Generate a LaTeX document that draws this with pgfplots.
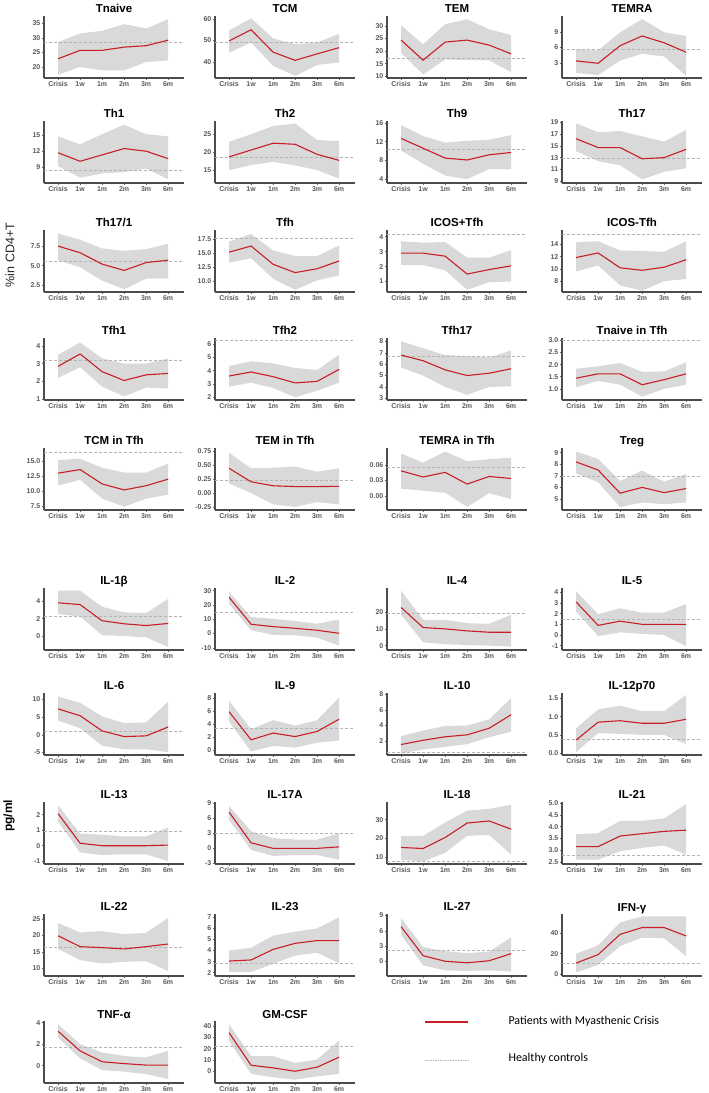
\documentclass[border=0pt]{standalone}
\usepackage{pgfplots}
\pgfplotsset{compat=1.18}
\usepackage{fontspec}
\setmainfont{Liberation Sans}
\newfontfamily\carlito{Carlito}
\definecolor{bandgray}{RGB}{217,217,217}
\definecolor{meanred}{RGB}{200,30,40}
\definecolor{hcgray}{RGB}{180,180,180}
\definecolor{tickgray}{RGB}{90,90,90}
\def\mkc#1,#2,#3,#4,#5,#6\relax{(0,#1) (1,#2) (2,#3) (3,#4) (4,#5) (5,#6)}
\def\mkr#1,#2,#3,#4,#5,#6\relax{(5,#6) (4,#5) (3,#4) (2,#3) (1,#2) (0,#1)}
\pgfplotsset{
 every axis title shift=0pt,
 panel/.style={
  scale only axis, width=140pt, height=62pt, anchor=south west,
  xmin=-0.64, xmax=5.72,
  axis x line*=bottom, axis y line*=left,
  axis line style={line width=1.1pt, draw=black!70, -},
  xtick={0,1,2,3,4,5}, xticklabels={Crisis,1w,1m,2m,3m,6m},
  major tick length=2pt, tick style={line width=0.5pt, draw=black!60},
  tick align=outside,
  scaled y ticks=false,
  ticklabel style={font=\bfseries\fontsize{7}{8}\selectfont, text=tickgray},
  xticklabel style={inner sep=1.5pt},
  yticklabel style={inner sep=1.5pt},
  /pgf/number format/assume math mode=true,
  title style={font=\bfseries\fontsize{11.5}{13}\selectfont, at={(0.5,1)}, anchor=base, yshift=3pt, inner sep=0pt},
  clip=false, no markers,
 },
 hcline/.style={dash pattern=on 3pt off 2pt, line width=0.8pt, hcgray},
 meanline/.style={line width=1.1pt, meanred},
}
% #1 position, #2 title, #3 axis options, #4 upper, #5 lower, #6 mean, #7 healthy controls
\newcommand{\panel}[7]{%
\begin{axis}[panel,at={(#1)},title={#2},#3]
\edef\tmpplot{\noexpand\addplot[draw=none,fill=bandgray] coordinates {\mkc#4\relax\space\mkr#5\relax} -- cycle;}\tmpplot
\addplot[hcline] coordinates {(-0.64,#7) (5.72,#7)};
\edef\tmpplot{\noexpand\addplot[meanline] coordinates {\mkc#6\relax};}\tmpplot
\end{axis}}
\begin{document}
\begin{tikzpicture}
\path[use as bounding box] (0,0) rectangle (709pt,1093pt);
% Row 1
\panel{44pt,1015pt}{Tnaive}{ymin=16.2,ymax=37.5,ytick={20,25,30,35}}{28.5,31.5,32.4,34.7,33.2,36.4}{17.3,20,18.8,18.8,21.7,22.2}{22.8,25.7,25.7,26.8,27.3,29.2}{28.4}
\panel{215pt,1015pt}{TCM}{ymin=32.6,ymax=61.4,ytick={40,50,60}}{54.7,60.3,51,48.3,49.1,53.1}{44.3,49.1,38.2,33.6,38.7,39.8}{49.8,55,44.6,40.8,43.8,46.7}{49.1}
\panel{387pt,1015pt}{TEM}{ymin=9.3,ymax=34,ytick={10,15,20,25,30}}{30.3,22.7,30.7,32.7,28.7,26.4}{19.3,10.7,16.7,16.4,16.3,11.6}{24.4,16.4,23.6,24.4,22.4,18.9}{17.3}
\panel{562pt,1015pt}{TEMRA}{ymin=0.2,ymax=12,ytick={3,6,9}}{5.7,5.45,8.9,11.4,8.9,8.2}{1.2,0.75,3.5,4.8,4.3,0.6}{3.45,3.0,6.35,8.2,6.9,5.1}{5.7}
% Row 2
\panel{44pt,910pt}{Th1}{ymin=6.0,ymax=17.7,ytick={9,12,15}}{14.8,13.3,15.2,17.0,15.2,14.8}{9.2,7.0,7.8,8.05,8.7,6.7}{11.7,10.1,11.3,12.5,12.0,10.6}{8.4}
\panel{215pt,910pt}{Th2}{ymin=11.4,ymax=28.7,ytick={15,20,25}}{22.9,25,27.3,28,23.4,23.1}{15,16.4,17.3,16.3,15,12.6}{18.7,20.6,22.5,22.2,19.4,17.7}{18.6}
\panel{387pt,910pt}{Th9}{ymin=3.2,ymax=16.4,ytick={4,8,12,16}}{15.5,13.2,11.8,12.2,12.4,13.4}{10.1,7.3,4.8,4,6.2,6.1}{12.7,10.6,8.5,8.1,9.2,9.7}{10.4}
\panel{562pt,910pt}{Th17}{ymin=8.7,ymax=19.2,ytick={9,11,13,15,17,19}}{18.8,17.3,17.5,16.6,15.7,17.7}{14.1,12.4,11.7,9.3,10.6,11.2}{16.2,14.7,14.7,12.8,13.0,14.4}{12.9}
% Row 3
\panel{44pt,801pt}{Th17/1}{ymin=1.65,ymax=9.55,ytick={2.5,5,7.5},yticklabels={2.5,5.0,7.5}}{9.1,8.3,7.2,6.9,7.1,7.8}{5.7,4.8,3.1,2.0,3.35,3.35}{7.5,6.65,5.2,4.4,5.4,5.7}{5.5}
\panel{215pt,801pt}{Tfh}{ymin=8,ymax=19.2,ytick={10,12.5,15,17.5},yticklabels={10.0,12.5,15.0,17.5}}{17.1,18.5,15.5,14.5,14.5,16.4}{13.3,14.1,10.4,8.4,10.1,11}{15.2,16.3,13.0,11.5,12.2,13.6}{17.7}
\panel{387pt,801pt}{ICOS+Tfh}{ymin=0.3,ymax=4.45,ytick={1,2,3,4}}{3.7,3.6,3.65,2.6,2.6,3.1}{2.1,2.1,1.75,0.45,0.95,1.0}{2.9,2.9,2.7,1.5,1.8,2.05}{4.15}
\panel{562pt,801pt}{ICOS-Tfh}{ymin=6.3,ymax=16.3,ytick={8,10,12,14}}{14.3,14.5,13.0,12.9,12.8,14.5}{9.6,10.6,7.35,6.5,8.05,8.4}{11.85,12.6,10.2,9.8,10.3,11.5}{15.6}
% Row 4
\panel{44pt,693pt}{Tfh1}{ymin=0.95,ymax=4.45,ytick={1,2,3,4}}{3.5,4.2,3.3,3.0,3.0,3.3}{2.2,2.8,1.7,1.15,1.65,1.6}{2.85,3.55,2.55,2.05,2.37,2.45}{3.2}
\panel{215pt,693pt}{Tfh2}{ymin=1.8,ymax=6.45,ytick={2,3,4,5,6}}{4.35,4.7,4.55,4.2,4.05,5.2}{2.8,3.1,2.7,2.0,2.5,3.1}{3.6,3.9,3.55,3.08,3.2,4.1}{6.3}
\panel{387pt,693pt}{Tfh17}{ymin=2.85,ymax=8.3,ytick={3,4,5,6,7,8}}{8.0,7.4,6.8,6.7,6.6,7.2}{5.7,5.0,4.0,3.3,4.0,4.05}{6.8,6.3,5.5,5.0,5.2,5.6}{6.7}
\panel{562pt,693pt}{Tnaive in Tfh}{ymin=0.54,ymax=3.1,ytick={1,1.5,2,2.5,3},yticklabels={1.0,1.5,2.0,2.5,3.0}}{1.83,1.93,2.07,1.7,1.72,2.1}{1.07,1.33,1.17,0.68,1.0,1.17}{1.44,1.62,1.62,1.17,1.38,1.62}{3.0}
% Row 5
\panel{44pt,583pt}{TCM in Tfh}{ymin=6.85,ymax=17.2,ytick={7.5,10,12.5,15},yticklabels={7.5,10.0,12.5,15.0}}{15.2,15.4,13.9,13.1,13.1,14.6}{10.9,11.9,8.75,7.4,8.75,9.4}{13.0,13.6,11.2,10.2,10.9,12.0}{16.5}
\panel{215pt,583pt}{TEM in Tfh}{ymin=-0.3,ymax=0.8,ytick={-0.25,0,0.25,0.5,0.75},yticklabels={-0.25,0.00,0.25,0.50,0.75}}{0.715,0.44,0.45,0.47,0.38,0.44}{0.17,0.0,-0.2,-0.245,-0.16,-0.2}{0.44,0.2,0.13,0.115,0.115,0.12}{0.22}
\panel{387pt,583pt}{TEMRA in Tfh}{ymin=-0.028,ymax=0.094,ytick={0,0.03,0.06},yticklabels={0.00,0.03,0.06}}{0.083,0.065,0.087,0.068,0.072,0.075}{0.014,0.01,0.006,-0.022,0.005,-0.0065}{0.049,0.037,0.046,0.023,0.038,0.034}{0.055}
\panel{562pt,583pt}{Treg}{ymin=4.05,ymax=9.4,ytick={5,6,7,8,9}}{9.1,8.45,6.55,7.45,6.5,7.15}{7.2,6.45,4.3,4.7,4.55,4.7}{8.2,7.5,5.5,6.0,5.55,5.9}{6.95}
% Row 6
\panel{44pt,443pt}{IL-1β}{ymin=-1.6,ymax=5.5,ytick={0,2,4}}{5.2,5.2,3.35,2.7,2.65,4.25}{2.5,2.25,0.1,0.0,-0.15,-1.25}{3.8,3.6,1.75,1.4,1.2,1.44}{2.25}
\panel{215pt,443pt}{IL-2}{ymin=-11.5,ymax=31.9,ytick={-10,0,10,20,30}}{29.1,11.5,10.4,8.8,6.9,9.9}{20.8,2.3,-0.9,-1.2,-2.8,-8.5}{25.4,6.5,4.85,3.7,2.3,0.2}{15}
\panel{387pt,443pt}{IL-4}{ymin=-2.6,ymax=34.4,ytick={0,10,20}}{32.8,15.4,15.4,13.4,13,18.4}{18.4,2,0.8,0.4,0,-0.6}{22.8,10.8,10,8.8,8,8}{19.4}
\panel{562pt,443pt}{IL-5}{ymin=-1.4,ymax=4.4,ytick={-1,0,1,2,3,4}}{4.1,1.95,2.5,2.1,2.1,2.9}{2.2,-0.1,0.25,0.1,0,-1.05}{3.1,0.9,1.3,1.0,1.0,1.0}{1.45}
% Row 7
\panel{44pt,338pt}{IL-6}{ymin=-5.7,ymax=11.8,ytick={-5,0,5,10}}{10.8,9.0,5.2,3.3,3.5,9.4}{4.0,1.9,-3.1,-4.1,-4.1,-4.9}{7.3,5.4,1.1,-0.5,-0.3,2.2}{1.1}
\panel{215pt,338pt}{IL-9}{ymin=-0.8,ymax=8.8,ytick={0,2,4,6,8}}{7.6,3.2,4.6,3.75,4.6,8.1}{4.4,-0.25,0.6,0.35,1.1,1.45}{5.9,1.55,2.6,2.05,2.85,4.75}{3.35}
\panel{387pt,338pt}{IL-10}{ymin=0.2,ymax=8.2,ytick={2,4,6,8}}{2.65,3.35,3.95,4.0,4.8,7.55}{0.4,0.9,1.25,1.6,2.5,3.2}{1.55,2.1,2.55,2.8,3.65,5.4}{0.48}
\panel{562pt,338pt}{IL-12p70}{ymin=-0.05,ymax=1.65,ytick={0,0.5,1,1.5},yticklabels={0.0,0.5,1.0,1.5}}{0.68,1.2,1.3,1.15,1.15,1.6}{0.03,0.55,0.53,0.5,0.5,0.25}{0.36,0.85,0.89,0.82,0.82,0.93}{0.37}
% Row 8
\panel{44pt,229pt}{IL-13}{ymin=-1.18,ymax=2.82,ytick={-1,0,1,2}}{2.6,0.78,0.71,0.6,0.6,1.18}{1.56,-0.44,-0.6,-0.56,-0.56,-1.0}{2.07,0.16,0,0,0,0.04}{0.93}
\panel{215pt,229pt}{IL-17A}{ymin=-3.1,ymax=9.2,ytick={-3,0,3,6,9}}{8.4,3.4,2.05,1.75,1.75,3.0}{5.6,-0.3,-1.5,-1.35,-1.35,-2.25}{7.2,1.1,0,0,0,0.3}{2.9}
\panel{387pt,229pt}{IL-18}{ymin=6.2,ymax=39.5,ytick={10,20,30}}{21.3,21.3,28.5,34.9,35.8,38}{8.5,7.6,12.2,21.3,21.8,11.3}{15.1,14.5,20.4,28.2,29.3,24.9}{7.6}
\panel{562pt,229pt}{IL-21}{ymin=2.41,ymax=5.05,ytick={2.5,3,3.5,4,4.5,5},yticklabels={2.5,3.0,3.5,4.0,4.5,5.0}}{3.68,3.72,4.25,4.25,4.35,4.97}{2.6,2.6,2.95,3.1,3.2,2.8}{3.15,3.15,3.6,3.7,3.8,3.85}{2.79}
% Row 9
\panel{44pt,117pt}{IL-22}{ymin=7.7,ymax=26.5,ytick={10,15,20,25}}{23.8,20.9,21.3,20.4,20.8,25.3}{15.9,12.5,11.5,12,12.2,9.2}{19.9,16.6,16.3,15.9,16.6,17.4}{16.4}
\panel{215pt,117pt}{IL-23}{ymin=1.7,ymax=7.3,ytick={2,3,4,5,6,7}}{4.0,4.25,5.35,5.7,6.0,7.0}{2.05,2.05,2.8,3.55,3.8,2.85}{3.05,3.15,4.1,4.65,4.9,4.9}{2.85}
\panel{387pt,117pt}{IL-27}{ymin=-2.9,ymax=9.3,ytick={0,3,6,9}}{8.5,2.8,2.0,1.6,1.9,4.7}{5.2,-0.8,-1.8,-1.9,-1.8,-2.0}{6.8,1.1,0,-0.3,0.1,1.5}{2.15}
\panel{562pt,117pt}{IFN-γ}{ymin=-1.7,ymax=58.7,ytick={0,20,40}}{20.1,28.1,50.5,56.4,56.4,56.4}{1.7,9.2,27.4,35.6,35,17.5}{10.9,19.1,38.9,45.5,45.5,37.3}{10.9}
% Row 10
\panel{44pt,10pt}{TNF-α}{ymin=-1.6,ymax=4.15,ytick={0,2,4}}{3.85,2.0,1.23,0.9,0.77,1.4}{2.6,0.68,-0.4,-0.55,-0.77,-1.23}{3.2,1.38,0.37,0.2,0.06,0.06}{1.7}
\panel{215pt,10pt}{GM-CSF}{ymin=-10.4,ymax=44.5,ytick={0,10,20,30,40}}{41.5,13.4,13.4,7.4,10.4,27.3}{26.7,-2.4,-5.3,-7.4,-4.5,-2.4}{34.1,5.3,3,0,3.6,12.5}{22.3}
% axis labels
\node[rotate=90, font=\fontsize{12.5}{14}\selectfont, text=black!85] at (10pt,838pt) {\%in CD4+T};
\node[rotate=90, font=\bfseries\fontsize{12}{14}\selectfont] at (9pt,277pt) {pg/ml};
% legend
\draw[meanred, line width=2.5pt] (425pt,71pt) -- (468pt,71pt);
\node[anchor=west, font=\carlito\fontsize{12}{14}\selectfont] at (505pt,72pt) {Patients with Myasthenic Crisis};
\draw[hcgray, line width=0.6pt, dash pattern=on 1.5pt off 1pt] (425pt,33pt) -- (468pt,33pt);
\node[anchor=west, font=\carlito\fontsize{12}{14}\selectfont] at (505pt,35pt) {Healthy controls};
\end{tikzpicture}
\end{document}
